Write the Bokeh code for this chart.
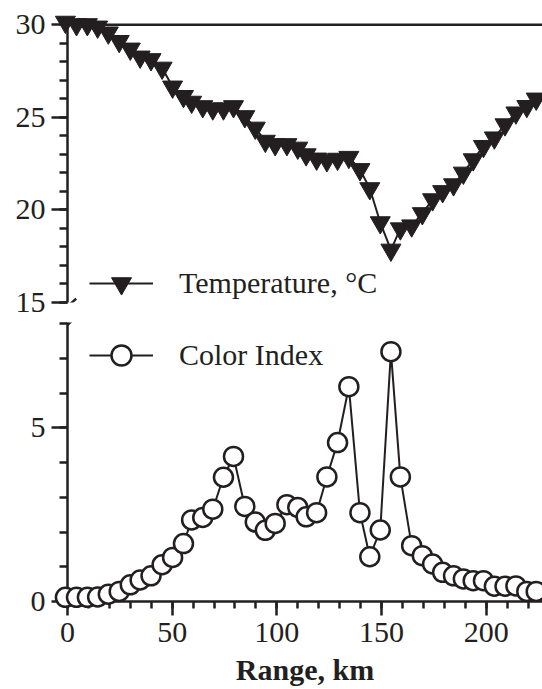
from bokeh.plotting import figure
from bokeh.models import (Range1d, SingleIntervalTicker, Span, Arrow, Legend,
                          LegendItem)
from bokeh.layouts import column
from bokeh.embed import file_html
from bokeh.resources import INLINE

# ---- data ----
range_km = [-1.0, 4.3, 9.5, 14.4, 19.5, 24.7, 30.0, 34.7, 39.9, 45.2,
            50.2, 55.4, 59.3, 64.6, 69.4, 74.5, 79.3, 84.7, 89.7, 94.5,
            99.2, 104.8, 110.0, 114.0, 119.0, 123.9, 129.0, 134.4, 139.7, 144.4,
            149.4, 154.5, 159.0, 164.4, 169.5, 174.4, 179.2, 184.4, 189.1, 193.8,
            198.7, 203.9, 209.0, 214.2, 219.4, 223.9]
temperature_c = [30.15, 30.02, 30.02, 29.89, 29.57, 29.11, 28.70, 28.27, 28.13, 27.67,
                 26.65, 26.14, 25.83, 25.59, 25.47, 25.47, 25.59, 25.05, 24.43, 23.72,
                 23.54, 23.54, 23.35, 22.99, 22.76, 22.67, 22.75, 22.85, 22.19, 21.16,
                 19.32, 17.84, 18.99, 19.15, 19.81, 20.56, 21.00, 21.37, 22.00, 22.72,
                 23.44, 23.90, 24.61, 25.25, 25.60, 26.00]
color_index = [0.12, 0.12, 0.12, 0.13, 0.21, 0.29, 0.48, 0.62, 0.74, 1.06,
               1.27, 1.67, 2.35, 2.42, 2.66, 3.58, 4.18, 2.74, 2.29, 2.05,
               2.25, 2.79, 2.71, 2.44, 2.56, 3.59, 4.58, 6.19, 2.56, 1.29,
               2.06, 7.20, 3.59, 1.61, 1.32, 1.08, 0.84, 0.74, 0.65, 0.60,
               0.60, 0.44, 0.44, 0.45, 0.29, 0.29]
temp_label = "Temperature, °C"
color_label = "Color Index"
x_title = "Range, km"

INK = "#231f20"
FONT = "Liberation Serif"
LW = 2.5

X_START, X_END = 0.0, 226.9
x_range = Range1d(X_START, X_END)


def style_axis(ax, major_out, minor_out, standoff):
    ax.axis_line_width = LW
    ax.axis_line_color = INK
    ax.major_tick_line_width = LW
    ax.minor_tick_line_width = LW
    ax.major_tick_line_color = INK
    ax.minor_tick_line_color = INK
    ax.major_tick_in = 0
    ax.major_tick_out = major_out
    ax.minor_tick_in = 0
    ax.minor_tick_out = minor_out
    ax.major_label_text_font = FONT
    ax.major_label_text_font_size = "30px"
    ax.major_label_text_color = INK
    ax.major_label_standoff = standoff


def style_y(p, lo, hi):
    ax = p.yaxis[0]
    ax.ticker = SingleIntervalTicker(interval=5, num_minor_ticks=5)
    ax.bounds = (lo, hi)
    style_axis(ax, 16, 8, 6)


# ---- top panel: temperature ----
top = figure(width=542, height=322, x_range=x_range, y_range=Range1d(15, 30.773),
             output_backend="svg", toolbar_location=None,
             min_border_left=67, min_border_right=0, min_border_top=10,
             min_border_bottom=20, outline_line_color=None)
top.xaxis.visible = False
top.grid.visible = False
style_y(top, 15, 30)

top.add_layout(Span(location=30, dimension="width", line_color=INK, line_width=LW))
t_line = top.line(range_km, temperature_c, line_color=INK, line_width=2,
                  level="overlay")
t_pts = top.scatter(range_km, temperature_c, marker="inverted_triangle", size=20,
                    fill_color=INK, line_color=INK, line_width=1, level="overlay")
# axis-break marks (upper one, and the top half of the lower one)
top.add_layout(Arrow(end=None, x_start=-2.05, y_start=14.565, x_end=4.16, y_end=15.213,
                     line_color=INK, line_width=LW))
top.add_layout(Arrow(end=None, x_start=-2.05, y_start=13.594, x_end=4.16, y_end=14.242,
                     line_color=INK, line_width=LW))
leg_t = Legend(items=[LegendItem(label=temp_label, renderers=[t_line, t_pts])],
               location=(22, -6), glyph_width=64, glyph_height=50, label_standoff=26,
               padding=0, margin=0, border_line_alpha=0, background_fill_alpha=0,
               label_text_font=FONT, label_text_font_size="30px",
               label_text_color=INK)
top.add_layout(leg_t)

# ---- bottom panel: color index ----
bot = figure(width=542, height=367, x_range=x_range, y_range=Range1d(0, 8.04),
             output_backend="svg", toolbar_location=None,
             min_border_left=67, min_border_right=0, min_border_top=0,
             min_border_bottom=88, outline_line_color=None)
bot.grid.visible = False
style_y(bot, 0, 8.04)
xa = bot.xaxis[0]
xa.ticker = SingleIntervalTicker(interval=50, num_minor_ticks=5)
style_axis(xa, 14, 7, 7)
xa.axis_label = x_title
xa.axis_label_text_font = FONT
xa.axis_label_text_font_size = "30px"
xa.axis_label_text_font_style = "bold"
xa.axis_label_text_color = INK
xa.axis_label_standoff = 8

c_line = bot.line(range_km, color_index, line_color=INK, line_width=2,
                  level="overlay")
c_pts = bot.scatter(range_km, color_index, marker="circle", size=19,
                    fill_color="white", line_color=INK, line_width=LW,
                    level="overlay")
# lower half of the lower axis-break mark
bot.add_layout(Arrow(end=None, x_start=-2.05, y_start=7.859, x_end=4.16, y_end=8.205,
                     line_color=INK, line_width=LW))
leg_c = Legend(items=[LegendItem(label=color_label, renderers=[c_line, c_pts])],
               location=(22, 221), glyph_width=64, glyph_height=50, label_standoff=26,
               padding=0, margin=0, border_line_alpha=0, background_fill_alpha=0,
               label_text_font=FONT, label_text_font_size="30px",
               label_text_color=INK)
bot.add_layout(leg_c)

layout = column(top, bot, spacing=0)
open("out.html", "w").write(file_html(layout, INLINE))
